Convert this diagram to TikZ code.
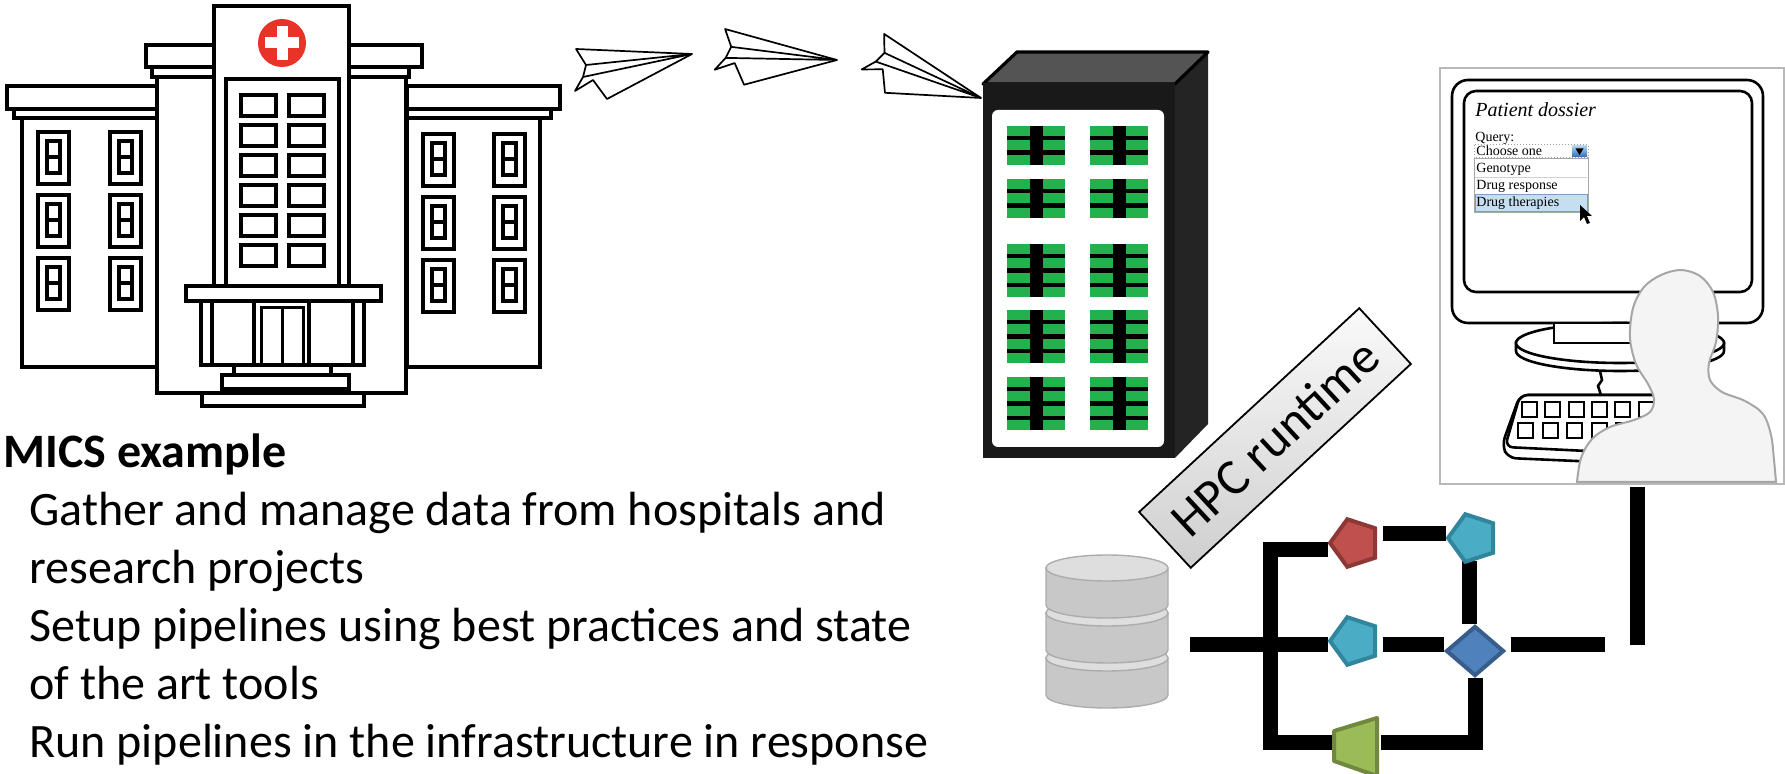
\documentclass[tikz,border=0pt]{standalone}
\usepackage{fontspec}
\setmainfont{Carlito}
\newfontfamily\screenserif{Liberation Serif}
\usetikzlibrary{shapes.geometric}
\pgfdeclarelayer{pipes}
\pgfsetlayers{pipes,main}

\definecolor{crossred}{RGB}{232,52,40}
\definecolor{rackgreen}{RGB}{34,177,76}
\definecolor{rackside}{RGB}{36,36,36}
\definecolor{racktop}{RGB}{84,84,84}
\definecolor{redfill}{RGB}{192,80,77}
\definecolor{redline}{RGB}{140,56,54}
\definecolor{cyanfill}{RGB}{75,172,198}
\definecolor{cyanline}{RGB}{49,133,156}
\definecolor{bluefill}{RGB}{79,129,189}
\definecolor{blueline}{RGB}{56,93,138}
\definecolor{greenfill}{RGB}{155,187,89}
\definecolor{greenline}{RGB}{113,137,63}
\definecolor{selblue}{RGB}{198,222,242}
\definecolor{selline}{RGB}{120,160,200}
\definecolor{btntop}{RGB}{175,208,238}
\definecolor{btnbot}{RGB}{45,110,180}
\definecolor{dbside}{RGB}{200,200,200}
\definecolor{dbtop}{RGB}{222,222,222}

% hospital window: outer frame, inner frame, middle bar
\newcommand\hwindow[2]{%
  \draw[hwin] (#1,#2) rectangle ++(31,52);
  \draw[hwin] (#1+9,#2+9) rectangle ++(13,32);
  \draw[hwin] (#1+9,#2+25) -- ++(13,0);}

% one slice of the database cylinder, top rim at y=#1
\newcommand\dbslice[1]{%
  \filldraw[dbpart,fill=dbside] (1046,#1) -- (1046,#1+37)
    arc[start angle=180,end angle=0,x radius=61,y radius=13] -- (1168,#1) -- cycle;
  \filldraw[dbpart,fill=dbtop] (1107,#1) ellipse [x radius=61,y radius=13];}

\begin{document}
\begin{tikzpicture}[x=0.5pt,y=-0.5pt,
  hosp/.style={draw=black,line width=2.2pt,fill=white,line join=miter},
  hwin/.style={draw=black,line width=1.9pt,fill=white},
  planeline/.style={draw=black,line width=0.85pt,fill=white,line join=round},
  paperplane/.pic={
    \filldraw[planeline] (0,0) -- (-116,-5) -- (-106,11) -- (-109,23) -- (-117,37)
      -- (-99,26) -- (-85,45) -- cycle;
    \draw[planeline] (-106,11) -- (0,0) (-109,23) -- (0,0);},
  mon/.style={draw=black,line width=1.3pt,fill=white},
  keycap/.style={draw=black,line width=1pt,fill=white},
  person/.style={draw=gray!70,line width=1pt,fill=gray!9},
  scrtitle/.style={anchor=base west,inner sep=0pt,font=\screenserif\itshape\fontsize{10}{12}\selectfont},
  scrtext/.style={anchor=base west,inner sep=0pt,font=\screenserif\fontsize{7}{8}\selectfont},
  body/.style={anchor=base west,inner sep=0pt,font=\fontsize{24}{29}\selectfont},
  dbpart/.style={draw=gray!65,line width=0.7pt},
  pipe/.style={line width=7.5pt,black,line cap=butt,line join=miter},
  pent/.style={regular polygon,regular polygon sides=5,shape border rotate=90,
    minimum size=25pt,inner sep=0pt,line width=2pt},
  hpcbox/.style={draw=black,line width=0.9pt,top color=gray!4,bottom color=gray!38,
    minimum width=150pt,minimum height=38pt,inner sep=0pt,
    font=\fontsize{25.5}{28}\selectfont}]
\useasboundingbox (0,0) rectangle (1785,774);

% ---------------- hospital ----------------
\draw[hosp] (22,118) rectangle (158,367);
\draw[hosp] (14,109) rectangle (158,118);
\draw[hosp] (7,86) rectangle (158,109);
\draw[hosp] (407,118) rectangle (540,367);
\draw[hosp] (407,109) rectangle (551,118);
\draw[hosp] (407,86) rectangle (560,109);
\foreach \wx in {38,110}{\foreach \wy in {132,195,258}{\hwindow{\wx}{\wy}}}
\foreach \wx in {423,494}{\foreach \wy in {134,197,260}{\hwindow{\wx}{\wy}}}
\draw[hosp] (157,77) rectangle (406,393);
\draw[hosp] (152,67) rectangle (409,77);
\draw[hosp] (146,45) rectangle (422,67);
\draw[hosp] (214,6) rectangle (349,287);
\draw[hosp] (226,79) rectangle (339,287);
\foreach \ty in {95,125,155,185,215,245}{
  \draw[hwin,line width=2.2pt] (241,\ty) rectangle ++(35,21);
  \draw[hwin,line width=2.2pt] (289,\ty) rectangle ++(35,21);}
\fill[crossred] (282,43) circle (24);
\fill[white] (276.5,26) rectangle (287.5,60);
\fill[white] (265,37.5) rectangle (299,48.5);
\draw[hosp] (186,286) rectangle (381,301);
\draw[hosp] (201,301) rectangle (364,365);
\draw[hosp] (212,301) -- (212,365);
\draw[hosp] (353,301) -- (353,365);
\draw[hosp] (254,301) rectangle (309,365);
\draw[hwin,line width=1.5pt] (261,308) rectangle (303,365);
\draw[hwin,line width=1.5pt] (282,308) -- (282,365);
\draw[hosp] (234,365) rectangle (331,375);
\draw[hosp] (222,375) rectangle (349,389);
\draw[hosp] (202,393) rectangle (364,406);

% ---------------- rack ----------------
\fill[rackside] (1175,83) -- (1208,52) -- (1208,424) -- (1175,458) -- cycle;
\filldraw[fill=racktop,draw=black,line width=1.6pt,line join=round]
  (983,84) -- (1017,52) -- (1208,52) -- (1175,84) -- cycle;
\fill[black!90] (983,83) rectangle (1175,458);
\fill[white,rounded corners=3pt] (992,110) rectangle (1164,447);
\foreach \gx in {1007,1090}{
  \foreach \gy/\nb in {126/3,179/3,244/4,310/4,377/4}{
    \fill[black] (\gx,\gy) rectangle ({\gx+58},{\gy+\nb*14.4-4.4});
    \foreach \k in {1,...,\nb}{
      \fill[rackgreen] (\gx,{\gy+(\k-1)*14.4}) rectangle ++(23,10);
      \fill[rackgreen] ({\gx+36},{\gy+(\k-1)*14.4}) rectangle ++(22,10);}}}

% ---------------- paper planes ----------------
\pic at (692,54) {paperplane};
\pic[rotate=-13] at (837,60) {paperplane};
\pic[rotate=-31] at (981,98) {paperplane};

% ---------------- workstation ----------------
\draw[draw=gray!55,line width=0.6pt,fill=white] (1440,68) rectangle (1784,484);
\draw[mon,rounded corners=8pt] (1452,80) rectangle (1763,323);
\draw[mon,rounded corners=6pt] (1464,91) rectangle (1752,292);
\filldraw[mon] (1516,343) -- (1516,351)
  arc[start angle=180,end angle=0,x radius=104,y radius=20] -- (1724,343) -- cycle;
\filldraw[mon] (1620,343) ellipse [x radius=104,y radius=20];
\filldraw[mon] (1554,323) rectangle (1690,343);
\draw[mon] (1600,371) -- (1602,380) -- (1598,386) -- (1601,395);
\filldraw[mon,rounded corners=4pt] (1690,395) -- (1520,395) -- (1502,445) -- (1508,458) -- (1690,466) -- cycle;
\filldraw[mon,rounded corners=4pt] (1690,395) -- (1520,395) -- (1505,447) -- (1690,456) -- cycle;
\foreach \i in {0,...,6}{\draw[keycap] ({1522+23.3*\i},402) rectangle ++(15,15);}
\foreach \i in {0,...,6}{\draw[keycap] ({1518+24.5*\i},423) rectangle ++(15,15);}

\node[scrtitle] (ptitle) at (1475,117) {Patient dossier};
\node[scrtext] (pquery) at (1475,142) {Query:};
\draw[gray!75,densely dotted,line width=0.5pt,fill=white] (1474,145) rectangle (1588,158);
\node[scrtext] (pchoose) at (1476,156) {Choose one};
\shade[top color=btntop,bottom color=btnbot] (1572,146) rectangle (1587,157);
\fill[black] (1575.5,148.5) -- (1583.5,148.5) -- (1579.5,155) -- cycle;
\draw[gray!70,line width=0.5pt,fill=white] (1474,159) rectangle (1588,213);
\draw[gray!35,line width=0.4pt] (1475,177) -- (1587,177);
\filldraw[fill=selblue,draw=selline,line width=0.5pt] (1475,195) rectangle (1587,212);
\node[scrtext] (pgeno) at (1476,173) {Genotype};
\node[scrtext] (presp) at (1476,190) {Drug response};
\node[scrtext] (pther) at (1476,207) {Drug therapies};
\fill[black] (1580,205) -- (1580,221) -- (1584,217) -- (1587,224) -- (1590,223)
  -- (1587,216) -- (1592,216) -- cycle;

\filldraw[person] plot[smooth,tension=0.55] coordinates {
  (1577,482) (1581,458) (1592,439) (1610,427) (1634,420) (1650,412) (1654,399)
  (1648,384) (1636,364) (1630,338) (1633,308) (1644,287) (1661,275) (1681,270)
  (1700,276) (1713,292) (1718,316) (1716,342) (1709,363) (1710,380) (1722,392)
  (1745,401) (1763,414) (1771,435) (1774,460) (1776,482)} -- cycle;

% ---------------- data store ----------------
\dbslice{658}
\dbslice{613}
\dbslice{568}

% ---------------- runtime label ----------------
\node[hpcbox,rotate=42.8] (hpc) at (1275,438) {HPC runtime};

% ---------------- pipeline ----------------
\node[pent,fill=redfill,draw=redline] (pred) at (1355,543) {};
\node[pent,fill=cyanfill,draw=cyanline] (pcyt) at (1473,538) {};
\node[pent,fill=cyanfill,draw=cyanline] (pcym) at (1355,641) {};
\node[diamond,fill=bluefill,draw=blueline,line width=2pt,minimum width=29pt,
  minimum height=25pt,inner sep=0pt] (dia) at (1475,651) {};
\filldraw[fill=greenfill,draw=greenline,line width=2pt,line join=round]
  (1334,731) -- (1377,718) -- (1377,776) -- (1334,761) -- cycle;
\coordinate (trapL) at (1334,743);
\coordinate (trapR) at (1377,743);
\coordinate (dbout) at (1190,645);
\coordinate (lineend) at (1605,645);
\coordinate (topL) at (1270,550);
\coordinate (botL) at (1270,743);
\coordinate (rcrow) at (1400,534);
\coordinate (vcol) at (1469,600);
\coordinate (panelbot) at (1637,487);

\begin{pgfonlayer}{pipes}
\draw[pipe] (dbout) -- (pcym.west |- dbout);
\draw[pipe] ([xshift=3pt]pcym.east |- dbout) -- (dia.west |- dbout);
\draw[pipe] ([xshift=2.5pt]dia.east |- dbout) -- (lineend);
\draw[pipe] (pred.west |- topL) -- (topL) -- (botL) -- (trapL);
\draw[pipe] ([xshift=3pt]pred.east |- rcrow) -- (pcyt.west |- rcrow);
\draw[pipe] (vcol |- pcyt.south) -- (vcol |- dia.north);
\draw[pipe] (dia.south) -- (dia.south |- botL) -- ([xshift=2pt]trapR);
\draw[pipe] (panelbot) -- (panelbot |- lineend);
\end{pgfonlayer}

% ---------------- text ----------------
\node[body,font=\bfseries\fontsize{24}{29}\selectfont] (title) at (3,468) {MICS example};
\node[body] (item1a) at (29,526) {Gather and manage data from hospitals and};
\node[body] (item1b) at (29,584) {research projects};
\node[body] (item2a) at (29,642) {Setup pipelines using best practices and state};
\node[body] (item2b) at (29,700) {of the art tools};
\node[body] (item3) at (29,758) {Run pipelines in the infrastructure in response};
\end{tikzpicture}
\end{document}
